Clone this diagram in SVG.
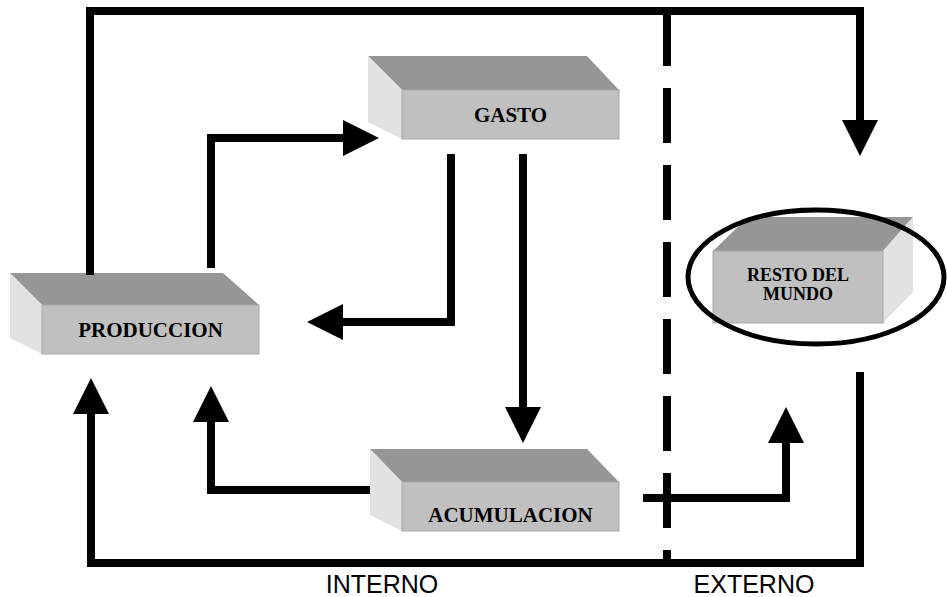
<svg xmlns="http://www.w3.org/2000/svg" width="947" height="597" viewBox="0 0 947 597">
<defs>
<style>
.top{fill:#969696}
.front{fill:#c0c0c0;stroke:#a8a8a8;stroke-width:1}
.side{fill:#e2e2e2}
.lbl{font-family:"Liberation Serif","Times New Roman",serif;font-weight:bold;font-size:21px;fill:#000;text-anchor:middle}
.lbl2{font-family:"Liberation Serif","Times New Roman",serif;font-weight:bold;font-size:18px;fill:#000;text-anchor:middle}
.zone{font-family:"Liberation Sans",Arial,sans-serif;font-size:25px;fill:#000;text-anchor:middle}
.conn{fill:none;stroke:#000;stroke-width:8;stroke-linejoin:miter}
</style>
<marker id="ah" markerUnits="userSpaceOnUse" markerWidth="36" markerHeight="36" refX="0" refY="18" orient="auto" viewBox="0 0 36 36">
<path d="M0,0 L36,18 L0,36 z" fill="#000"/>
</marker>
</defs>
<rect width="947" height="597" fill="#fff"/>

<g id="produccion">
<polygon class="top" points="10,273 223,273 259,305 42,305"/>
<polygon class="side" points="10,273 42,305 42,354 10,338"/>
<rect class="front" x="42" y="305" width="217" height="49"/>
<text class="lbl" x="150.5" y="337">PRODUCCION</text>
</g>

<g id="gasto">
<polygon class="top" points="368,56 587,56 619,90 402,90"/>
<polygon class="side" points="368,56 402,90 402,139 368,122"/>
<rect class="front" x="402" y="90" width="217" height="49"/>
<text class="lbl" x="510.5" y="122">GASTO</text>
</g>

<g id="acumulacion">
<polygon class="top" points="370,449 587,449 619,482 402,482"/>
<polygon class="side" points="370,449 402,482 402,531 370,515"/>
<rect class="front" x="402" y="482" width="217" height="49"/>
<text class="lbl" x="510.5" y="522">ACUMULACION</text>
</g>

<g id="resto">
<polygon class="top" points="748,217 913,217 883,251 713,251"/>
<polygon class="side" points="913,217 913,292 883,323 883,251"/>
<rect class="front" x="713" y="251" width="170" height="72"/>
<text class="lbl2" x="798" y="281">RESTO DEL</text>
<text class="lbl2" x="798" y="300">MUNDO</text>
<ellipse cx="816" cy="277" rx="128" ry="67" fill="none" stroke="#000" stroke-width="5"/>
</g>

<g id="connectors">
<path class="conn" d="M90,275 V11 H860 V120" marker-end="url(#ah)"/>
<path class="conn" d="M211,268 V138 H343" marker-end="url(#ah)"/>
<path class="conn" d="M451,154 V322 H343" marker-end="url(#ah)"/>
<path class="conn" d="M523,154 V407" marker-end="url(#ah)"/>
<path class="conn" d="M643,498 H786 V443" marker-end="url(#ah)"/>
<path class="conn" d="M370,490 H211 V422" marker-end="url(#ah)"/>
<path class="conn" d="M860,372 V563 H91 V414" marker-end="url(#ah)"/>
<path class="conn" d="M667,11 V563" stroke-dasharray="55 22"/>
</g>

<g id="zones">
<text class="zone" x="382" y="593">INTERNO</text>
<text class="zone" x="754" y="593">EXTERNO</text>
</g>
</svg>
